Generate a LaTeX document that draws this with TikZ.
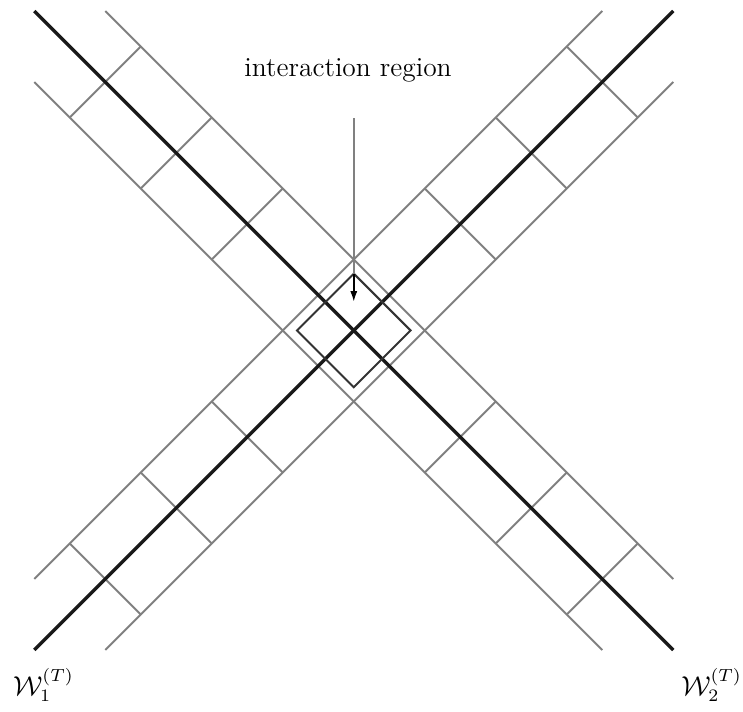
\documentclass[tikz,border=0pt]{standalone}
\usetikzlibrary{arrows.meta}
\begin{document}
\begin{tikzpicture}[x=28.4pt,y=28.4pt,
  worldline/.style={line width=1.35pt,black!90},
  tube/.style={line width=0.75pt,black!50},
  region/.style={line width=0.8pt,black!80},
  pointer/.style={-{Latex[length=4.2pt,width=2.8pt]},line width=0.6pt,black}]
\useasboundingbox (-4.983,-5.373) rectangle (5.482,4.655);

% edges of the two tubes
\coordinate (a1) at (-4.5,-3.5); \coordinate (a2) at (3.5,4.5);
\coordinate (b1) at (-3.5,-4.5); \coordinate (b2) at (4.5,3.5);
\coordinate (c1) at (-3.5,4.5);  \coordinate (c2) at (4.5,-3.5);
\coordinate (d1) at (-4.5,3.5);  \coordinate (d2) at (3.5,-4.5);
\draw[tube] (a1) -- (a2);
\draw[tube] (b1) -- (b2);
\draw[tube] (c1) -- (c2);
\draw[tube] (d1) -- (d2);

% cross sections of the tubes
\foreach \t in {-3.5,-2.5,-1.5,1.5,2.5,3.5} {
  \draw[tube] ({\t-0.5},{\t+0.5}) -- ({\t+0.5},{\t-0.5});
  \draw[tube] ({\t-0.5},{-(\t)-0.5}) -- ({\t+0.5},{-(\t)+0.5});
}

% world lines
\coordinate (p1) at (-4.5,-4.5); \coordinate (q1) at (4.5,4.5);
\coordinate (p2) at (4.5,-4.5);  \coordinate (q2) at (-4.5,4.5);
\draw[worldline] (p1) -- (q1);
\draw[worldline] (p2) -- (q2);

% interaction region
\coordinate (rt) at (0,0.8);  \coordinate (rr) at (0.8,0);
\coordinate (rb) at (0,-0.8); \coordinate (rl) at (-0.8,0);
\draw[region] (rt) -- (rr) -- (rb) -- (rl) -- cycle;

\node[anchor=base,font=\fontsize{11}{13}\selectfont] (lab) at (-0.08,3.575) {interaction region};
\coordinate (from) at (0,2.99);
\coordinate (tip) at (0,0.405);
\draw[tube] (from) -- (rt);
\draw[pointer] (rt) -- (tip);

\node[anchor=base,font=\fontsize{10.5}{12}\selectfont] (w1) at (-4.37,-5.14) {$\mathcal{W}_1^{(T)}$};
\node[anchor=base,font=\fontsize{10.5}{12}\selectfont] (w2) at (5.04,-5.14) {$\mathcal{W}_2^{(T)}$};
\end{tikzpicture}
\end{document}
